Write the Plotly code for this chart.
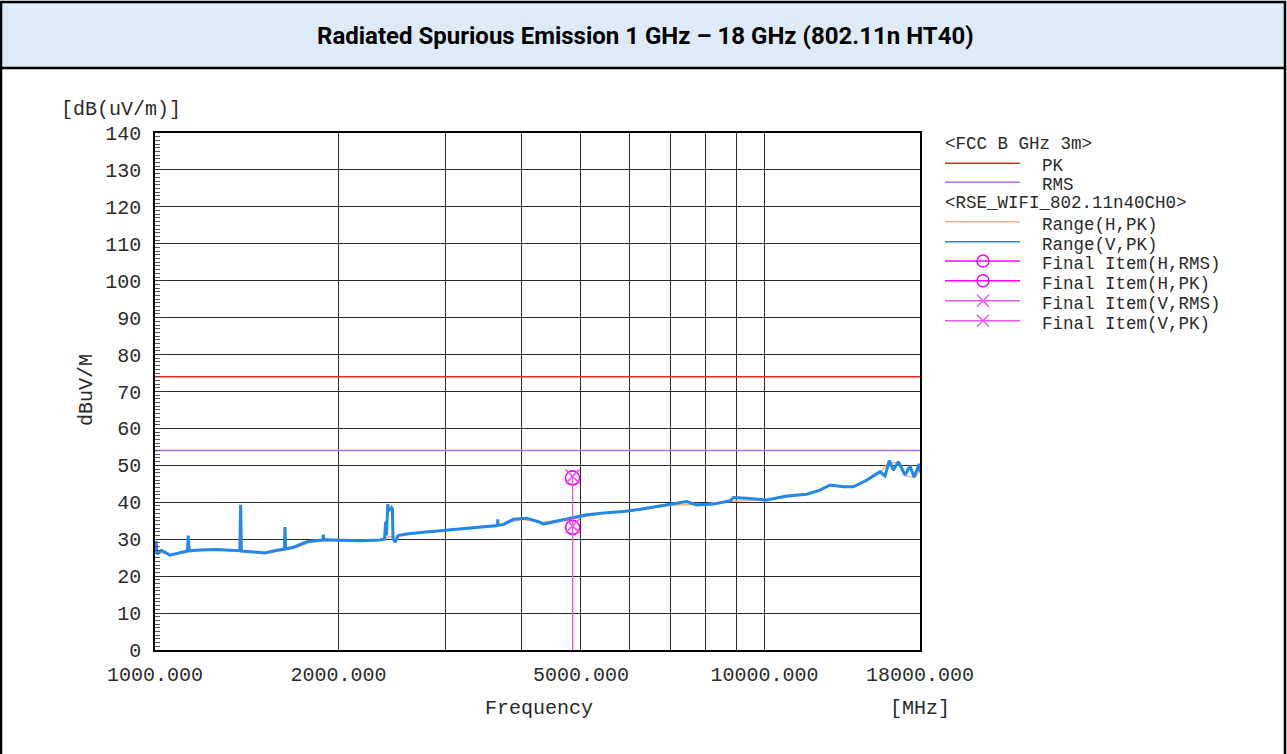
import plotly.graph_objects as go

W, H = 1287, 754

# ---------------- data ----------------
freq_v = [1000, 1004, 1008, 1025, 1058, 1090, 1113, 1130, 1134, 1138, 1185, 1262, 1327,
          1378, 1382, 1386, 1432, 1515, 1584, 1630, 1634, 1638, 1686, 1774, 1830, 1885,
          1889, 1893, 1950, 2089, 2170, 2340, 2380, 2390, 2398, 2410, 2418, 2425, 2435,
          2445, 2452, 2458, 2477, 2507, 2588, 2756, 3011, 3329, 3592, 3648, 3651, 3654,
          3730, 3873, 4073, 4282, 4337, 4562, 4858, 5109, 5510, 5869, 6251, 6658, 7000,
          7457, 7743, 8245, 8783, 8896, 9354, 10086, 10879, 11733, 12339, 12811, 13477,
          13992, 14721, 15475, 15770, 16032, 16275, 16585, 17011, 17335, 17600, 17955, 18000]
range_v = [27.0, 29.5, 26.0, 27.0, 25.7, 26.2, 26.6, 26.8, 31.0, 26.9, 27.1, 27.2, 27.0,
           26.9, 39.3, 26.8, 26.6, 26.3, 27.0, 27.3, 33.3, 27.4, 27.8, 29.3, 29.6, 29.8,
           31.2, 29.9, 29.8, 29.7, 29.6, 29.8, 30.0, 34.7, 31.0, 39.5, 37.5, 38.6, 37.9,
           38.5, 38.2, 30.2, 29.2, 31.0, 31.4, 31.9, 32.5, 33.2, 33.6, 33.7, 35.4, 33.8,
           34.0, 35.4, 35.7, 34.6, 34.1, 34.9, 35.7, 36.6, 37.2, 37.5, 38.1, 38.8, 39.3,
           40.2, 39.3, 39.5, 40.4, 41.3, 41.1, 40.6, 41.7, 42.2, 43.3, 44.7, 44.2,
           44.2, 46.0, 48.3, 47.1, 51.3, 48.7, 51.0, 47.4, 49.8, 46.8, 50.4, 48.3]

freq_h = [1000, 1060, 1200, 1400, 1550, 1700, 1800, 2000, 2300, 2420, 2500, 2800, 3300,
          3650, 4000, 4300, 4850, 5500, 6300, 7000, 7800, 8800, 10000, 11700, 12800,
          14000, 15500, 16000, 16600, 17000, 17600, 18000]
range_h = [26.6, 25.8, 27.1, 26.9, 26.4, 27.6, 29.2, 29.7, 29.6, 30.6, 30.9, 32.0, 33.1,
           33.7, 35.4, 34.5, 35.6, 37.0, 38.0, 39.2, 39.4, 40.3, 40.6, 42.1, 44.5,
           44.1, 48.0, 50.8, 50.7, 47.2, 46.7, 48.2]

limit_freq = [1000, 18000]
limit_pk = [74, 74]
limit_rms = [54, 54]

final_freq = [4844]
final_h_rms = [33.2]
final_h_pk = [46.6]
final_v_rms = [33.6]
final_v_pk = [47.0]

x_tickvals = [1000, 2000, 3000, 4000, 5000, 6000, 7000, 8000, 9000, 10000, 18000]
x_ticktext = ["1000.000", "2000.000", "", "", "5000.000", "", "", "", "", "10000.000", "18000.000"]
y_tickvals = list(range(0, 141, 10))

# ---------------- style ----------------
C_PK = "#EE2424"
C_RMS = "#B070F0"
C_H = "#F4B183"
C_V = "#2288EA"
C_FH = "#FF00FF"
C_FV = "#F055F0"
MONO = "Liberation Mono, Courier New, monospace"
TXT = "#2a2a2a"


def px(x):
    return x / W


def py(y):
    return 1 - y / H


fig = go.Figure()
fig.add_trace(go.Scatter(x=limit_freq, y=limit_pk, mode="lines", line=dict(color=C_PK, width=1.5), showlegend=False))
fig.add_trace(go.Scatter(x=limit_freq, y=limit_rms, mode="lines", line=dict(color=C_RMS, width=1.5), showlegend=False))
fig.add_trace(go.Scatter(x=freq_h, y=range_h, mode="lines", line=dict(color=C_H, width=1.5), showlegend=False))
fig.add_trace(go.Scatter(x=freq_v, y=range_v, mode="lines", line=dict(color=C_V, width=3), showlegend=False))

for vals, col, sym in [(final_h_rms, C_FH, "circle-open"), (final_h_pk, C_FH, "circle-open"),
                       (final_v_rms, C_FV, "x-thin-open"), (final_v_pk, C_FV, "x-thin-open")]:
    for f, v in zip(final_freq, vals):
        fig.add_trace(go.Scatter(x=[f, f], y=[0, v], mode="lines", line=dict(color=col, width=1), showlegend=False))
    fig.add_trace(go.Scatter(x=final_freq, y=vals, mode="markers",
                             marker=dict(symbol=sym, size=14, color=col, line=dict(color=col, width=1.6)),
                             showlegend=False))

shapes = []
annotations = []

# frame / header band
shapes.append(dict(type="rect", xref="paper", yref="paper", x0=px(1), x1=px(1285), y0=py(2), y1=py(68),
                   fillcolor="#DEEAF6", line=dict(color="black", width=2.5), layer="below"))
shapes.append(dict(type="line", xref="paper", yref="paper", x0=px(1), x1=px(1), y0=py(68), y1=py(756),
                   line=dict(color="black", width=2.5)))
shapes.append(dict(type="line", xref="paper", yref="paper", x0=px(1285), x1=px(1285), y0=py(68), y1=py(756),
                   line=dict(color="black", width=2.5)))

annotations.append(dict(text="<b>Radiated Spurious Emission 1 GHz – 18 GHz (802.11n HT40)</b>",
                        xref="paper", yref="paper", x=px(646), y=py(36), showarrow=False,
                        xanchor="center", yanchor="middle",
                        font=dict(family="Liberation Sans Narrow, Arial Narrow, Roboto, sans-serif", size=24, color="black")))

# axis texts
annotations.append(dict(text="[dB(uV/m)]", xref="paper", yref="paper", x=px(121), y=py(110), showarrow=False,
                        xanchor="center", yanchor="middle", font=dict(family=MONO, size=20, color=TXT)))
annotations.append(dict(text="dBuV/M", xref="paper", yref="paper", x=px(86), y=py(390), showarrow=False,
                        textangle=-90, xanchor="center", yanchor="middle", font=dict(family=MONO, size=20, color=TXT)))
annotations.append(dict(text="Frequency", xref="paper", yref="paper", x=px(539), y=py(708), showarrow=False,
                        xanchor="center", yanchor="middle", font=dict(family=MONO, size=20, color=TXT)))
annotations.append(dict(text="[MHz]", xref="paper", yref="paper", x=px(920), y=py(708), showarrow=False,
                        xanchor="center", yanchor="middle", font=dict(family=MONO, size=20, color=TXT)))

# legend (drawn manually)
legend_rows = [
    ("header", "<FCC B GHz 3m>", 144, None, None),
    ("line", "PK", 163.3, C_PK, None),
    ("line", "RMS", 182.3, C_RMS, None),
    ("header", "<RSE_WIFI_802.11n40CH0>", 203, None, None),
    ("line", "Range(H,PK)", 221.7, C_H, None),
    ("line", "Range(V,PK)", 241.7, C_V, None),
    ("line", "Final Item(H,RMS)", 261, C_FH, "circle"),
    ("line", "Final Item(H,PK)", 280.7, C_FH, "circle"),
    ("line", "Final Item(V,RMS)", 300.7, C_FV, "x"),
    ("line", "Final Item(V,PK)", 320.7, C_FV, "x"),
]
for kind, label, y, col, sym in legend_rows:
    if kind == "header":
        annotations.append(dict(text=label.replace("<", "&lt;").replace(">", "&gt;"), xref="paper", yref="paper",
                                x=px(944), y=py(y), showarrow=False, xanchor="left", yanchor="middle",
                                borderpad=0, font=dict(family=MONO, size=17.5, color=TXT)))
    else:
        shapes.append(dict(type="line", xref="paper", yref="paper", x0=px(945), x1=px(1020), y0=py(y), y1=py(y),
                           line=dict(color=col, width=1.5)))
        annotations.append(dict(text=label, xref="paper", yref="paper", x=px(1041), y=py(y + 3),
                                showarrow=False, xanchor="left", yanchor="middle",
                                borderpad=0, font=dict(family=MONO, size=17.5, color=TXT)))
        r = 6
        if sym == "circle":
            shapes.append(dict(type="circle", xref="paper", yref="paper", x0=px(983 - r), x1=px(983 + r),
                               y0=py(y - r), y1=py(y + r), line=dict(color=col, width=1.5)))
        elif sym == "x":
            shapes.append(dict(type="line", xref="paper", yref="paper", x0=px(983 - r), x1=px(983 + r),
                               y0=py(y - r), y1=py(y + r), line=dict(color=col, width=1.5)))
            shapes.append(dict(type="line", xref="paper", yref="paper", x0=px(983 - r), x1=px(983 + r),
                               y0=py(y + r), y1=py(y - r), line=dict(color=col, width=1.5)))

fig.update_layout(
    width=W, height=H,
    margin=dict(l=0, r=0, t=0, b=0, autoexpand=False),
    paper_bgcolor="white", plot_bgcolor="rgba(0,0,0,0)",
    showlegend=False,
    shapes=shapes, annotations=annotations,
    xaxis=dict(type="log", domain=[px(155), px(920)], range=[3, 4.2552725],
               tickvals=x_tickvals, ticktext=x_ticktext, ticks="", ticklabelstandoff=5,
               showgrid=True, gridcolor="#2b2b2b", gridwidth=1.2,
               showline=True, linecolor="black", linewidth=1.6, mirror=True, zeroline=False,
               tickfont=dict(family=MONO, size=20, color=TXT)),
    yaxis=dict(domain=[py(650), py(133)], range=[0, 140], tickvals=y_tickvals,
               ticks="inside", ticklen=8, tickcolor="#333", tickwidth=1.2, ticklabelstandoff=8,
               minor=dict(dtick=1, ticks="inside", ticklen=5, tickcolor="#555", tickwidth=1, showgrid=False),
               showgrid=True, gridcolor="#2b2b2b", gridwidth=1.2,
               showline=True, linecolor="black", linewidth=1.6, mirror=True, zeroline=False,
               tickfont=dict(family=MONO, size=20, color=TXT)),
)

fig.write_html("out.html", config={"displayModeBar": False},
               post_script="document.body.style.margin='0';document.body.style.overflow='hidden';")
